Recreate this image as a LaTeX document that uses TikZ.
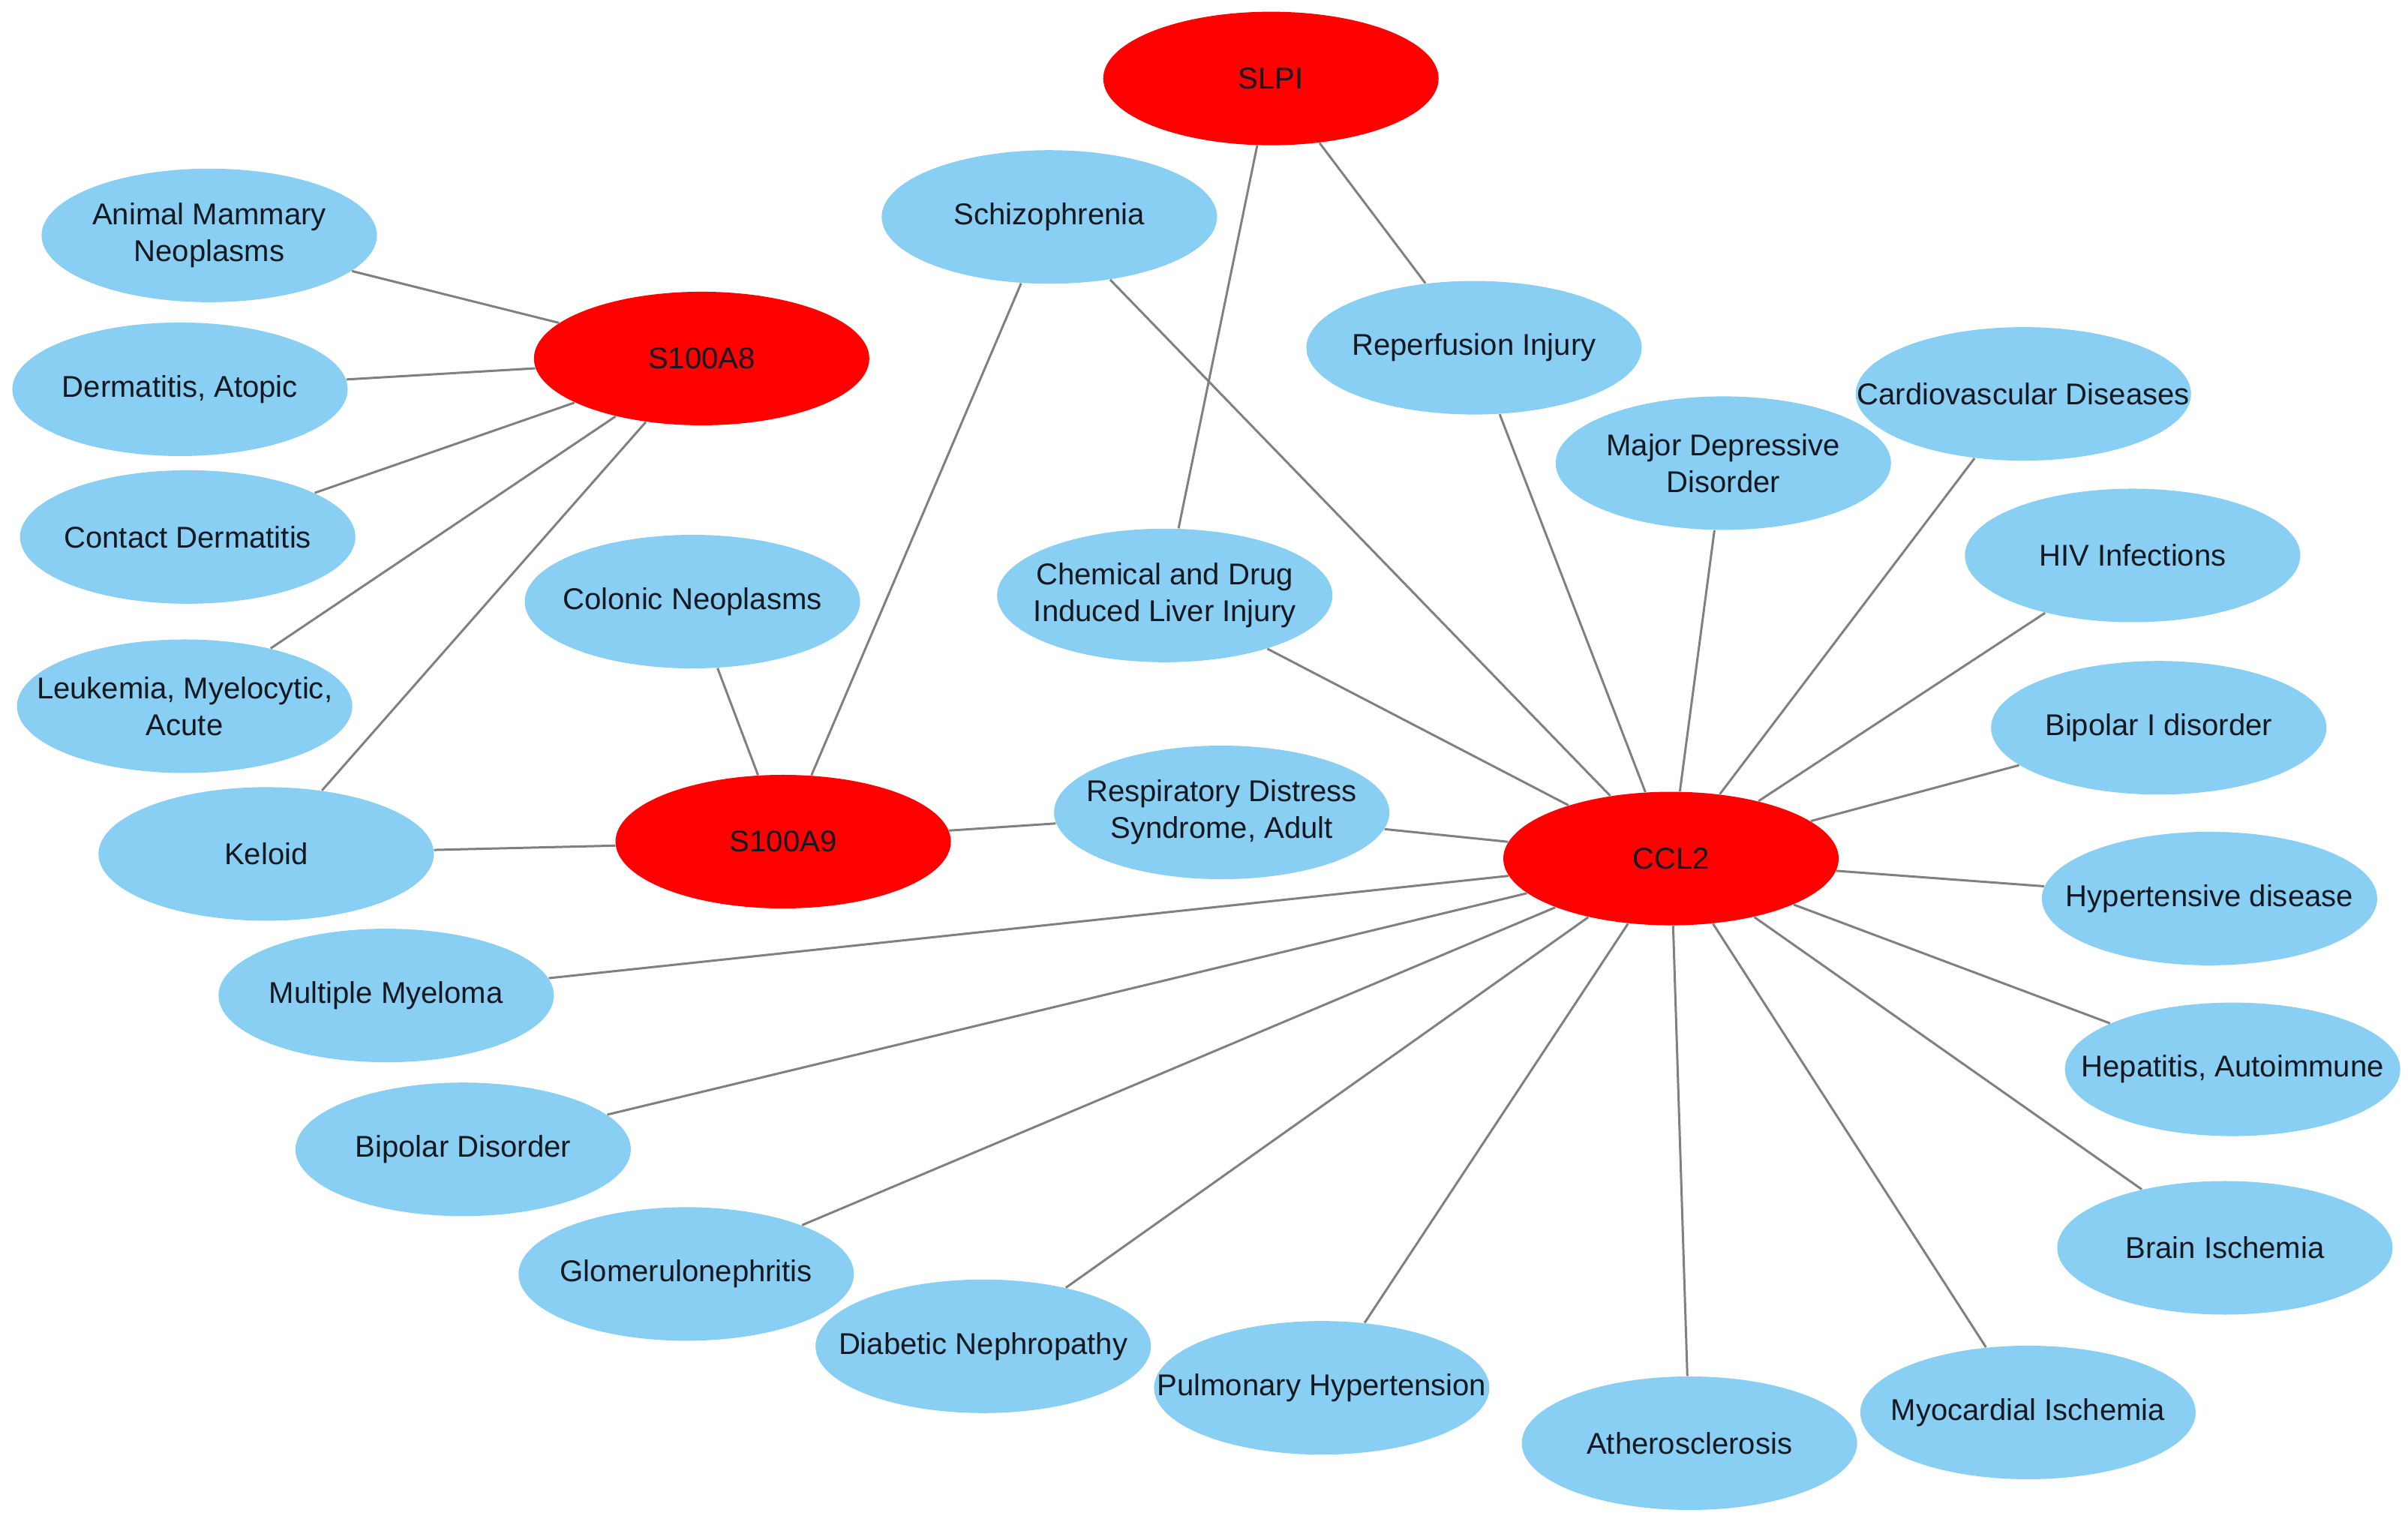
\documentclass[tikz,border=0pt]{standalone}
\usepackage{fontspec}
\setmainfont{Liberation Sans}
\usepackage{tikz}
\usetikzlibrary{shapes.geometric}
\definecolor{gene_red}{RGB}{255,0,0}
\definecolor{disease_blue}{RGB}{137,206,243}
\definecolor{edge_gray}{RGB}{128,128,128}
\definecolor{label_black}{RGB}{20,24,32}
\tikzstyle{disease} = [
    ellipse, minimum width=4.47cm, minimum height=1.78cm,
    inner xsep=-0.7cm, inner ysep=0pt, align=center,
    fill=disease_blue, text=label_black,
    font=\fontsize{11.4}{14}\selectfont,
]
\tikzstyle{gene} = [disease, fill=gene_red]
\tikzstyle{edge} = [line width=0.85pt, edge_gray]

\begin{document}
\begin{tikzpicture}[x=0.2051mm, y=-0.2051mm]
    \useasboundingbox (0,0) rectangle (1565,990.7);

    % gene nodes
    \node[gene] (slpi) at (826,51) {SLPI};
    \node[gene] (s100a8) at (456,233) {S100A8};
    \node[gene] (s100a9) at (509,547) {S100A9};
    \node[gene] (ccl2) at (1086,558) {CCL2};

    % disease nodes, left side
    \node[disease] (animal_mammary) at (136,153) {Animal Mammary\\Neoplasms};
    \node[disease] (dermatitis_atopic) at (117,253) {Dermatitis, Atopic};
    \node[disease] (contact_dermatitis) at (122,349) {Contact Dermatitis};
    \node[disease] (leukemia) at (120,459) {Leukemia, Myelocytic,\\Acute};
    \node[disease] (keloid) at (173,555) {Keloid};
    \node[disease] (colonic_neoplasms) at (450,391) {Colonic Neoplasms};
    \node[disease] (schizophrenia) at (682,141) {Schizophrenia};
    \node[disease] (liver_injury) at (757,387) {Chemical and Drug\\Induced Liver Injury};
    \node[disease] (respiratory_distress) at (794,528) {Respiratory Distress\\Syndrome, Adult};

    % disease nodes, right side
    \node[disease] (reperfusion) at (958,226) {Reperfusion Injury};
    \node[disease] (major_depressive) at (1120,301) {Major Depressive\\Disorder};
    \node[disease] (cardiovascular) at (1315,256) {Cardiovascular Diseases};
    \node[disease] (hiv) at (1386,361) {HIV Infections};
    \node[disease] (bipolar_one) at (1403,473) {Bipolar I disorder};
    \node[disease] (hypertensive) at (1436,584) {Hypertensive disease};
    \node[disease] (hepatitis) at (1451,695) {Hepatitis, Autoimmune};
    \node[disease] (brain_ischemia) at (1446,811) {Brain Ischemia};

    % disease nodes, bottom
    \node[disease] (myocardial_ischemia) at (1318,918) {Myocardial Ischemia};
    \node[disease] (atherosclerosis) at (1098,938) {Atherosclerosis};
    \node[disease] (pulmonary_hypertension) at (859,902) {Pulmonary Hypertension};
    \node[disease] (diabetic_nephropathy) at (639,875) {Diabetic Nephropathy};
    \node[disease] (glomerulonephritis) at (446,828) {Glomerulonephritis};
    \node[disease] (bipolar_disorder) at (301,747) {Bipolar Disorder};
    \node[disease] (multiple_myeloma) at (251,647) {Multiple Myeloma};

    % edges of SLPI
    \draw[edge] (slpi) to (liver_injury);
    \draw[edge] (slpi) to (reperfusion);

    % edges of S100A8
    \draw[edge] (s100a8) to (animal_mammary);
    \draw[edge] (s100a8) to (dermatitis_atopic);
    \draw[edge] (s100a8) to (contact_dermatitis);
    \draw[edge] (s100a8) to (leukemia);
    \draw[edge] (s100a8) to (keloid);

    % edges of S100A9
    \draw[edge] (s100a9) to (colonic_neoplasms);
    \draw[edge] (s100a9) to (schizophrenia);
    \draw[edge] (s100a9) to (keloid);
    \draw[edge] (s100a9) to (respiratory_distress);

    % edges of CCL2
    \draw[edge] (ccl2) to (respiratory_distress);
    \draw[edge] (ccl2) to (liver_injury);
    \draw[edge] (ccl2) to (schizophrenia);
    \draw[edge] (ccl2) to (reperfusion);
    \draw[edge] (ccl2) to (major_depressive);
    \draw[edge] (ccl2) to (cardiovascular);
    \draw[edge] (ccl2) to (hiv);
    \draw[edge] (ccl2) to (bipolar_one);
    \draw[edge] (ccl2) to (hypertensive);
    \draw[edge] (ccl2) to (hepatitis);
    \draw[edge] (ccl2) to (brain_ischemia);
    \draw[edge] (ccl2) to (myocardial_ischemia);
    \draw[edge] (ccl2) to (atherosclerosis);
    \draw[edge] (ccl2) to (pulmonary_hypertension);
    \draw[edge] (ccl2) to (diabetic_nephropathy);
    \draw[edge] (ccl2) to (glomerulonephritis);
    \draw[edge] (ccl2) to (bipolar_disorder);
    \draw[edge] (ccl2) to (multiple_myeloma);
\end{tikzpicture}
\end{document}
